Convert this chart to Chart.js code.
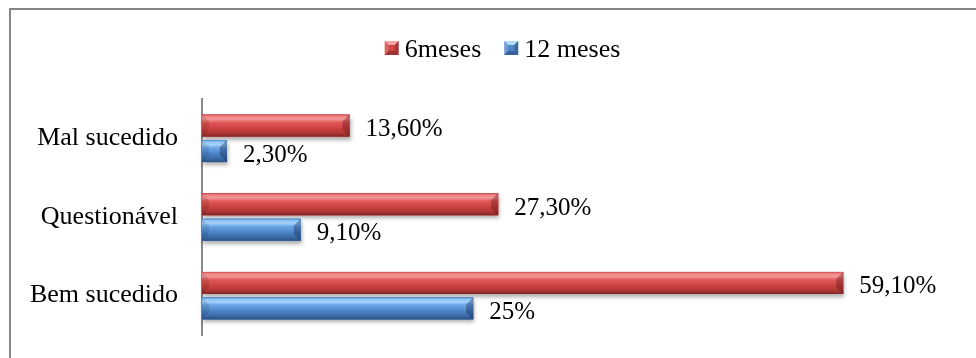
<!DOCTYPE html>
<html>
<head>
<meta charset="utf-8">
<script src="https://cdn.jsdelivr.net/npm/chart.js@4/dist/chart.umd.min.js"></script>
<style>
  html, body { margin: 0; padding: 0; background: #ffffff; overflow: hidden; }
  #wrap { position: relative; width: 976px; height: 358px; overflow: hidden; }
  #frame { position: absolute; left: 9px; top: 8px; width: 1100px; height: 500px;
           border: 2px solid #878787; box-sizing: border-box; }
  canvas { position: absolute; left: 0; top: 0; }
</style>
</head>
<body>
<div id="wrap">
  <div id="frame"></div>
  <canvas id="chart" width="976" height="358"></canvas>
</div>
<script>
// Avaliação do resultado aos 6 e aos 12 meses (percentuais)
const categories = ['Mal sucedido', 'Questionável', 'Bem sucedido'];
const seriesNames = ['6meses', '12 meses'];
const sixMonths = [13.6, 27.3, 59.1];
const twelveMonths = [2.3, 9.1, 25];

const SERIF = '"Liberation Serif", "Times New Roman", serif';

// bevel palettes (top edge -> bottom edge)
const palettes = [
  { base: '#d24545', stops: [[0, '#c44848'], [0.07, '#ef8080'], [0.2, '#f49797'], [0.36, '#e15959'],
      [0.6, '#cf4343'], [0.8, '#b63838'], [0.92, '#9a2e2e'], [1, '#7c2424']],
    light: '#f7a6a6', dark: 'rgba(90,18,18,0.38)' },
  { base: '#4f86c9', stops: [[0, '#4a7fc0'], [0.07, '#8bc1f1'], [0.2, '#a5d2fa'], [0.36, '#6ba5e6'],
      [0.6, '#4f86c9'], [0.8, '#3e6fad'], [0.92, '#335f98'], [1, '#284c7c']],
    light: '#b3dbfc', dark: 'rgba(18,38,80,0.38)' }
];

function fmtPct(v) {
  return Number.isInteger(v) ? v + '%' : v.toFixed(2).replace('.', ',') + '%';
}

function barRect(el) {
  const p = el.getProps(['x', 'y', 'base', 'height'], true);
  const left = Math.min(p.base, p.x), right = Math.max(p.base, p.x);
  return { left, right, top: p.y - p.height / 2, h: p.height, cy: p.y, end: p.x };
}

// soft drop shadow beneath every bar
const barShadow = {
  id: 'barShadow',
  beforeDatasetsDraw(chart) {
    const ctx = chart.ctx;
    chart.data.datasets.forEach((ds, i) => {
      const meta = chart.getDatasetMeta(i);
      meta.data.forEach(el => {
        const r = barRect(el);
        ctx.save();
        ctx.shadowColor = 'rgba(0,0,0,0.32)';
        ctx.shadowBlur = 4;
        ctx.shadowOffsetX = 1;
        ctx.shadowOffsetY = 3;
        ctx.fillStyle = palettes[i].base;
        ctx.fillRect(r.left, r.top, r.right - r.left, r.h);
        ctx.restore();
      });
    });
  }
};

// raised bevel look on top of the plain bars
const barBevel = {
  id: 'barBevel',
  afterDatasetsDraw(chart) {
    const ctx = chart.ctx;
    chart.data.datasets.forEach((ds, i) => {
      const meta = chart.getDatasetMeta(i);
      const pal = palettes[i];
      meta.data.forEach(el => {
        const r = barRect(el);
        const w = r.right - r.left;
        if (w <= 0) return;
        const g = ctx.createLinearGradient(0, r.top, 0, r.top + r.h);
        pal.stops.forEach(s => g.addColorStop(s[0], s[1]));
        ctx.save();
        ctx.fillStyle = g;
        ctx.fillRect(r.left, r.top, w, r.h);
        const b = Math.min(7, w / 2);
        // right end facet
        ctx.fillStyle = pal.dark;
        ctx.beginPath();
        ctx.moveTo(r.right, r.top);
        ctx.lineTo(r.right, r.top + r.h);
        ctx.lineTo(r.right - b, r.top + r.h - b);
        ctx.lineTo(r.right - b, r.top + b);
        ctx.closePath();
        ctx.fill();
        // left end facet
        ctx.fillStyle = 'rgba(0,0,0,0.10)';
        ctx.beginPath();
        ctx.moveTo(r.left, r.top);
        ctx.lineTo(r.left + b, r.top + b);
        ctx.lineTo(r.left + b, r.top + r.h - b);
        ctx.lineTo(r.left, r.top + r.h);
        ctx.closePath();
        ctx.fill();
        ctx.restore();
      });
    });
  }
};

// value labels to the right of each bar
const valueLabels = {
  id: 'valueLabels',
  afterDatasetsDraw(chart, args, opts) {
    const ctx = chart.ctx;
    ctx.save();
    ctx.font = opts.size + 'px ' + SERIF;
    ctx.fillStyle = '#000000';
    ctx.textAlign = 'left';
    ctx.textBaseline = 'alphabetic';
    chart.data.datasets.forEach((ds, i) => {
      const meta = chart.getDatasetMeta(i);
      meta.data.forEach((el, j) => {
        const r = barRect(el);
        ctx.fillText(fmtPct(ds.data[j]), r.end + opts.offsetX, r.cy + opts.offsetY);
      });
    });
    ctx.restore();
  }
};

// legend with small bevelled squares
const bevelLegend = {
  id: 'bevelLegend',
  afterDraw(chart, args, opts) {
    const ctx = chart.ctx;
    ctx.save();
    ctx.font = opts.size + 'px ' + SERIF;
    ctx.textBaseline = 'alphabetic';
    ctx.textAlign = 'left';
    const items = chart.data.datasets.map((ds, i) => ({ text: ds.label, pal: palettes[i], tw: ctx.measureText(ds.label).width }));
    let total = 0;
    items.forEach((it, k) => { total += opts.box + opts.textGap + it.tw + (k ? opts.itemGap : 0); });
    let x = opts.centerX - total / 2;
    items.forEach((it, k) => {
      if (k) x += opts.itemGap;
      const bx = x, by = opts.boxTop, s = opts.box, e = 4;
      ctx.fillStyle = it.pal.base;
      ctx.fillRect(bx, by, s, s);
      const facet = (pts, col) => {
        ctx.fillStyle = col;
        ctx.beginPath();
        ctx.moveTo(pts[0][0], pts[0][1]);
        for (let q = 1; q < pts.length; q++) ctx.lineTo(pts[q][0], pts[q][1]);
        ctx.closePath();
        ctx.fill();
      };
      facet([[bx, by], [bx + s, by], [bx + s - e, by + e], [bx + e, by + e]], it.pal.light);
      facet([[bx, by + s], [bx + s, by + s], [bx + s - e, by + s - e], [bx + e, by + s - e]], it.pal.dark);
      facet([[bx + s, by], [bx + s, by + s], [bx + s - e, by + s - e], [bx + s - e, by + e]], 'rgba(0,0,0,0.22)');
      facet([[bx, by], [bx, by + s], [bx + e, by + s - e], [bx + e, by + e]], 'rgba(255,255,255,0.18)');
      x += s + opts.textGap;
      ctx.fillStyle = '#000000';
      ctx.fillText(it.text, x, opts.baseline);
      x += it.tw;
    });
    ctx.restore();
  }
};

new Chart(document.getElementById('chart'), {
  type: 'bar',
  data: {
    labels: categories,
    datasets: [
      { label: seriesNames[0], data: sixMonths, backgroundColor: palettes[0].base, borderWidth: 0 },
      { label: seriesNames[1], data: twelveMonths, backgroundColor: palettes[1].base, borderWidth: 0 }
    ]
  },
  options: {
    indexAxis: 'y',
    responsive: false,
    devicePixelRatio: 1,
    animation: false,
    events: [],
    categoryPercentage: 0.648,
    barPercentage: 0.863,
    layout: { padding: { top: 99, bottom: 23, left: 0, right: 14.5 } },
    scales: {
      x: { display: false, min: 0, max: 70 },
      y: {
        z: 1,
        afterFit(scale) {
          scale.width = 202;
          scale.paddingTop = 0;
          scale.paddingBottom = 0;
        },
        grid: { display: false, drawTicks: false },
        border: { display: true, color: '#898989', width: 2 },
        ticks: { color: '#000000', padding: 24, font: { family: SERIF, size: 26 } }
      }
    },
    plugins: {
      legend: { display: false },
      tooltip: { enabled: false },
      valueLabels: { size: 25, offsetX: 16, offsetY: 10.5 },
      bevelLegend: { size: 26, box: 14, textGap: 6, itemGap: 23, centerX: 502.5, boxTop: 41, baseline: 57 }
    }
  },
  plugins: [barShadow, barBevel, valueLabels, bevelLegend]
});
</script>
</body>
</html>
